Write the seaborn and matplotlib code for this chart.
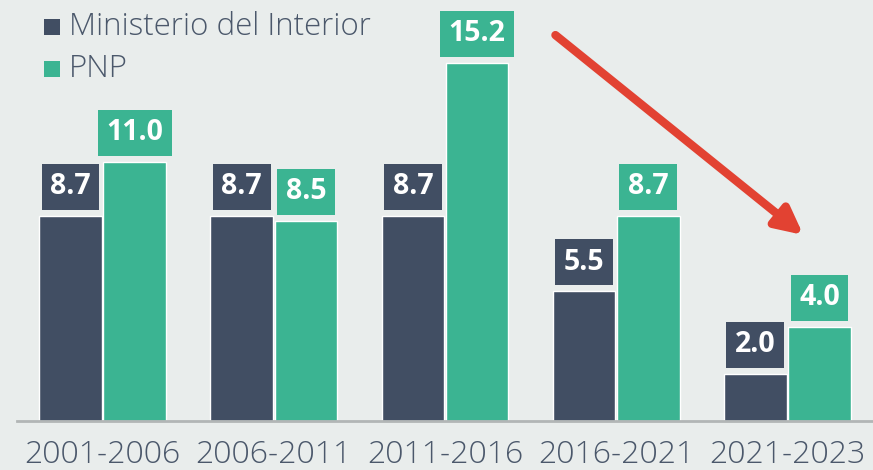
import pandas as pd
import matplotlib.pyplot as plt
import seaborn as sns
from matplotlib.patches import Rectangle

# Data
periods = ["2001-2006", "2006-2011", "2011-2016", "2016-2021", "2021-2023"]
ministerio = [8.7, 8.7, 8.7, 5.5, 2.0]
pnp = [11.0, 8.5, 15.2, 8.7, 4.0]
series = ["Ministerio del Interior", "PNP"]

dark = "#414e63"
green = "#3bb492"
bg = "#e9edec"
axis_grey = "#b2b6b6"
text_grey = "#4b586b"

df = pd.DataFrame({
    "periodo": periods * 2,
    "valor": ministerio + pnp,
    "serie": [series[0]] * len(periods) + [series[1]] * len(periods),
})

sns.set_style("white")
plt.rcParams["font.family"] = ["Open Sans", "DejaVu Sans"]

W, H = 873, 470
fig = plt.figure(figsize=(W / 100, H / 100), dpi=100, facecolor=bg)
ax = fig.add_axes([17 / W, 49 / H, 1 - 17 / W, 421 / H])
ax.set_facecolor(bg)

sns.barplot(data=df, x="periodo", y="valor", hue="serie", hue_order=series,
            palette=[dark, green], width=0.75, gap=0.025, saturation=1,
            legend=False, ax=ax)

ax.set_xlim(-0.5, 4.477)
ax.set_ylim(0, 17.88)
ax.set_xlabel("")
ax.set_ylabel("")
ax.set_yticks([])

for s in ["top", "right", "left"]:
    ax.spines[s].set_visible(False)
ax.spines["bottom"].set_color(axis_grey)
ax.spines["bottom"].set_linewidth(2)

# category labels in the middle, tick marks on the group boundaries
ax.set_xticks(range(len(periods)))
ax.set_xticklabels(periods, fontsize=23, fontweight="light", color=text_grey)
ax.tick_params(axis="x", which="major", length=0, pad=13)
ax.set_xticks([i - 0.5 for i in range(len(periods) + 1)], minor=True)
ax.tick_params(axis="x", which="minor", length=7, width=1.5, color=axis_grey)

# value boxes above each bar
for container, col in zip(ax.containers, [dark, green]):
    for bar in container:
        h = bar.get_height()
        ax.annotate(f"{h:.1f}", (bar.get_x() + bar.get_width() / 2, h),
                    xytext=(0, 21), textcoords="offset points",
                    ha="center", va="center", fontsize=20.5, fontweight="bold",
                    color="white",
                    bbox=dict(boxstyle="square,pad=0.3", fc=col, ec="none"))

# downward trend arrow
ax.annotate("", xy=(4.093, 7.9), xytext=(2.645, 16.39),
            arrowprops=dict(arrowstyle="-|>,head_length=1.6,head_width=0.8",
                            color="#e24232", lw=6, shrinkA=0, shrinkB=0))

# legend: small squares sitting on the text baseline
for i, (name, col) in enumerate(zip(series, [dark, green])):
    base = 35 + 42 * i
    fig.patches.append(Rectangle((44 / W, 1 - base / H), 16 / W, 16 / H,
                                 transform=fig.transFigure, fc=col, ec="none"))
    fig.text(69 / W, 1 - base / H, name, fontsize=22.5, fontweight="light",
             color=text_grey, ha="left", va="baseline")

fig.savefig("out.png", dpi=100, facecolor=bg)
